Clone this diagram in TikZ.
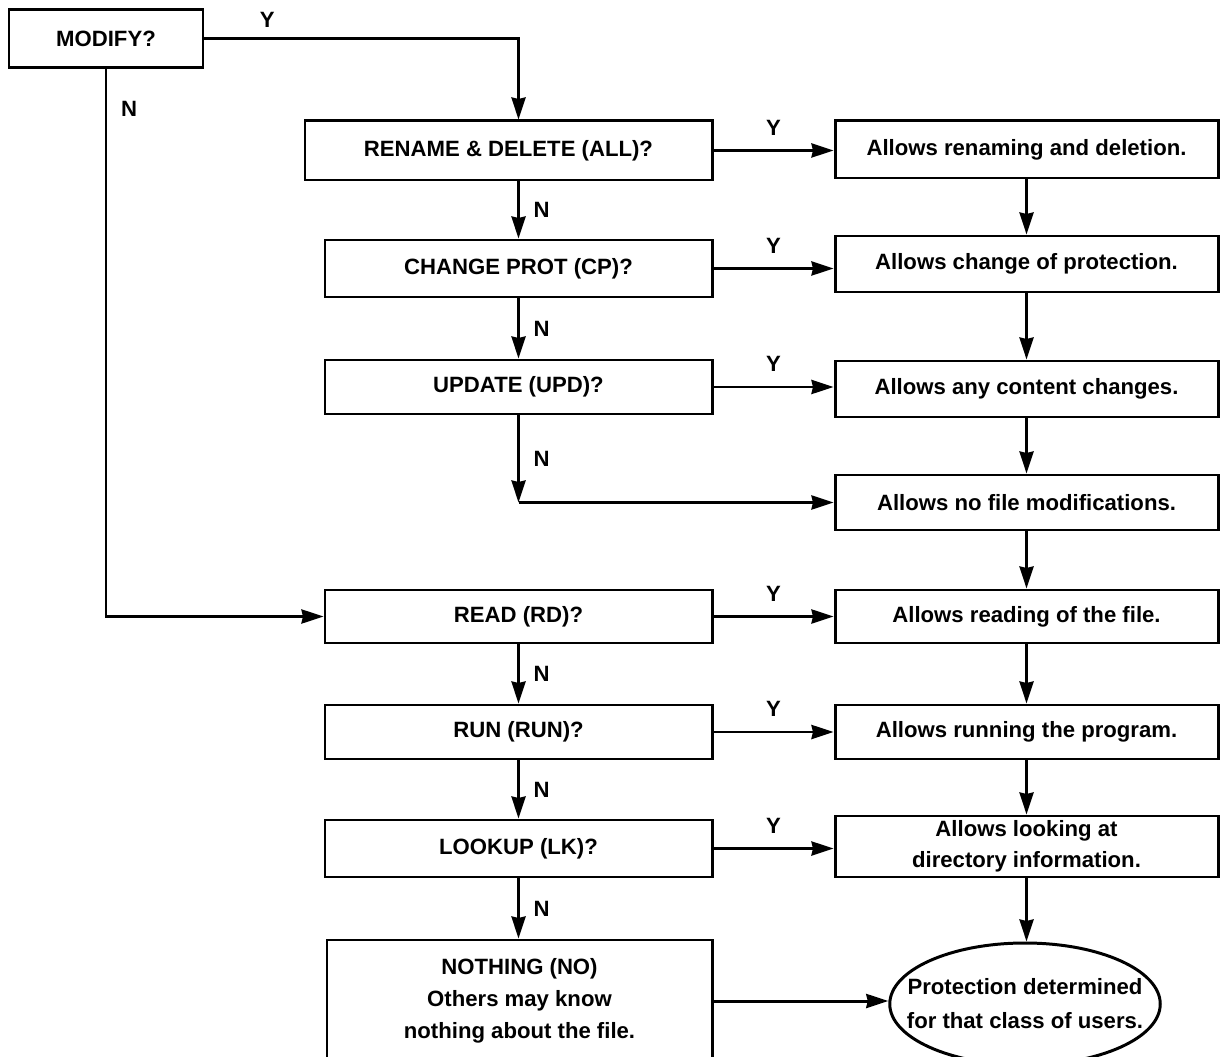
\documentclass[tikz,border=0pt]{standalone}
\usepackage{fontspec}
\setmainfont{Liberation Sans}
\usetikzlibrary{arrows.meta,shapes.geometric}

\tikzset{
  lbl/.style={font=\bfseries\fontsize{12.6}{18}\selectfont},
  qbox/.style={lbl,draw,line width=1.7pt,minimum width=77.4mm,minimum height=11.2mm,inner sep=0pt,align=center},
  abox/.style={qbox,minimum width=76.6mm},
  arr/.style={line width=1.7pt,-{Stealth[length=4.4mm,width=2.8mm,inset=0.3mm]}},
  yn/.style={lbl,inner sep=2pt}
}

\begin{document}
\begin{tikzpicture}[x=0.2mm,y=-0.2mm]
  \useasboundingbox (0,0) rectangle (1220,1057);
  \clip (0,0) rectangle (1220,1057);

  % questions
  \node[qbox,minimum width=38.8mm,minimum height=11.6mm] (mod) at (106,39) {MODIFY?};
  \node[qbox,minimum width=81.4mm,minimum height=11.8mm] (ren) at (508.5,150.5) {RENAME \& DELETE (ALL)?};
  \node[qbox,minimum height=11.4mm] (chp) at (518.5,268.5) {CHANGE PROT (CP)?};
  \node[qbox,minimum height=10.8mm] (upd) at (518.5,387) {UPDATE (UPD)?};
  \node[qbox,minimum height=10.6mm] (rd) at (518.5,616.5) {READ (RD)?};
  \node[qbox,minimum height=10.8mm] (rn) at (518.5,732) {RUN (RUN)?};
  \node[qbox,minimum height=11.4mm] (lk) at (518.5,848.5) {LOOKUP (LK)?};
  \node[qbox,minimum width=77mm,minimum height=24.4mm,font=\bfseries\fontsize{12.6}{18.2}\selectfont]
    (no) at (519.5,1001) {NOTHING (NO)\\Others may know\\nothing about the file.};

  % what each one allows
  \node[abox,minimum height=11.4mm] (aren) at (1026.5,149.5) {Allows renaming and deletion.};
  \node[abox] (achp) at (1026.5,264) {Allows change of protection.};
  \node[abox] (aupd) at (1026.5,389) {Allows any content changes.};
  \node[abox,minimum height=11mm] (anone) at (1026.5,502.5) {Allows no file modifications.};
  \node[abox,minimum height=10.6mm] (ard) at (1026.5,616.5) {Allows reading of the file.};
  \node[abox,minimum height=10.8mm] (arn) at (1026.5,732) {Allows running the program.};
  \node[abox,minimum height=12.2mm,font=\bfseries\fontsize{12.6}{17.6}\selectfont]
    (alk) at (1026.5,846.5) {Allows looking at\\directory information.};
  \node[ellipse,draw,line width=1.7pt,minimum width=54mm,minimum height=24.4mm,inner ysep=0pt,inner xsep=-4.5mm,
    align=center,font=\bfseries\fontsize{12.6}{19.3}\selectfont]
    (prot) at (1025,1004) {Protection determined\\for that class of users.};

  % yes branches
  \draw[arr] (mod.east) -| node[yn,above=1.2mm,pos=0.1] (ym) {Y} (ren.north -| chp.north);
  \draw[arr] (ren.east) -- node[yn,above=2mm] (y1) {Y} (ren.east -| aren.west);
  \draw[arr] (chp.east) -- node[yn,above=2mm] (y2) {Y} (chp.east -| achp.west);
  \draw[arr] (upd.east) -- node[yn,above=2mm] (y3) {Y} (upd.east -| aupd.west);
  \draw[arr] (rd.east) -- node[yn,above=2mm] (y4) {Y} (rd.east -| ard.west);
  \draw[arr] (rn.east) -- node[yn,above=2mm] (y5) {Y} (rn.east -| arn.west);
  \draw[arr] (lk.east) -- node[yn,above=2mm] (y6) {Y} (lk.east -| alk.west);

  % no branches
  \draw[arr] (mod.south) |- node[yn,right=2mm,pos=0.036] (nm) {N} (rd.west);
  \draw[arr] (ren.south -| chp.north) -- node[yn,right=2mm] (n1) {N} (chp.north);
  \draw[arr] (chp.south) -- node[yn,right=2mm] (n2) {N} (upd.north);
  \coordinate (bend) at (upd.south |- anone.west);
  \draw[arr] (upd.south) -- node[yn,right=2mm] (n3) {N} (bend);
  \draw[arr] (bend) -- (anone.west);
  \draw[arr] (rd.south) -- node[yn,right=2mm] (n4) {N} (rn.north);
  \draw[arr] (rn.south) -- node[yn,right=2mm] (n5) {N} (lk.north);
  \draw[arr] (lk.south) -- node[yn,right=2mm] (n6) {N} (lk.south |- no.north);
  \draw[arr] (no.east) -- (no.east -| prot.west);

  % right column chain
  \draw[arr] (aren.south) -- (achp.north);
  \draw[arr] (achp.south) -- (aupd.north);
  \draw[arr] (aupd.south) -- (anone.north);
  \draw[arr] (anone.south) -- (ard.north);
  \draw[arr] (ard.south) -- (arn.north);
  \draw[arr] (arn.south) -- (alk.north);
  \draw[arr] (alk.south) -- (alk.south |- prot.north);
\end{tikzpicture}
\end{document}
